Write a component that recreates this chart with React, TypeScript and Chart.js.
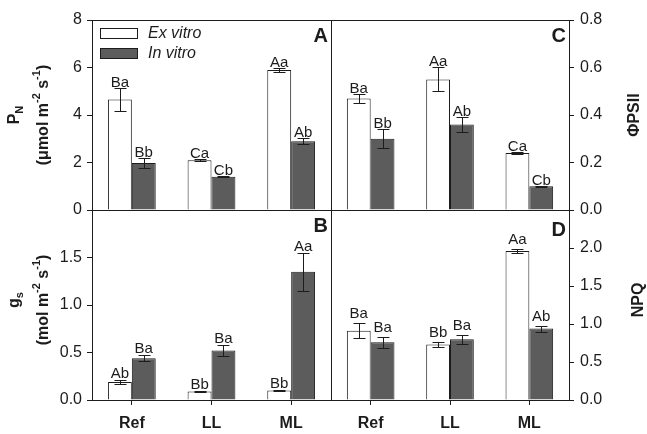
import { useEffect, useRef } from 'react';
import { Chart, registerables } from 'chart.js';

Chart.register(...registerables);

const W = 647;
const H = 434;
const FONT = '"Liberation Sans", Arial, Helvetica, sans-serif';
const INK = '#1c1c1c';
const DARK_FILL = '#5c5c5c';
const Y_AXIS_BAND = 60;
const X_AXIS_BAND = 30;

const categories = ['Ref', 'LL', 'ML'];
const seriesNames = ['Ex vitro', 'In vitro'];

// Net photosynthetic rate, P_N (µmol m-2 s-1)
const pnExVitro = [4.65, 2.1, 5.9];
const pnInVitro = [1.98, 1.4, 2.9];
const pnExVitroErr = [0.5, 0.05, 0.1];
const pnInVitroErr = [0.2, 0.03, 0.14];
const pnExVitroLetters = ['Ba', 'Ca', 'Aa'];
const pnInVitroLetters = ['Bb', 'Cb', 'Ab'];
const pnAxis = [0, 8, 2]; // min, max, step

// Stomatal conductance, gs (mol m-2 s-1)
const gsExVitro = [0.19, 0.09, 0.1];
const gsInVitro = [0.44, 0.52, 1.35];
const gsExVitroErr = [0.02, 0.005, 0.005];
const gsInVitroErr = [0.03, 0.06, 0.2];
const gsExVitroLetters = ['Ab', 'Bb', 'Bb'];
const gsInVitroLetters = ['Ba', 'Ba', 'Aa'];
const gsAxis = [0, 2, 0.5];

// Effective quantum yield of PSII
const psiiExVitro = [0.47, 0.55, 0.24];
const psiiInVitro = [0.3, 0.36, 0.1];
const psiiExVitroErr = [0.02, 0.05, 0.004];
const psiiInVitroErr = [0.04, 0.03, 0.002];
const psiiExVitroLetters = ['Ba', 'Aa', 'Ca'];
const psiiInVitroLetters = ['Bb', 'Ab', 'Cb'];
const psiiAxis = [0, 0.8, 0.2];

// Non-photochemical quenching
const npqExVitro = [0.91, 0.73, 1.96];
const npqInVitro = [0.76, 0.8, 0.94];
const npqExVitroErr = [0.1, 0.03, 0.03];
const npqInVitroErr = [0.07, 0.06, 0.04];
const npqExVitroLetters = ['Ba', 'Bb', 'Aa'];
const npqInVitroLetters = ['Ba', 'Ba', 'Ab'];
const npqAxis = [0, 2.5, 0.5];

type Run = { t: string; k?: 'sub' | 'sup' };

interface PanelSpec {
  letter: string;
  box: [number, number, number, number]; // left, top, right, bottom
  side: 'left' | 'right';
  ex: number[];
  inn: number[];
  exErr: number[];
  inErr: number[];
  exLetters: string[];
  inLetters: string[];
  axis: number[];
  decimals: number;
  hideTopLabel: boolean;
  showCategories: boolean;
  showLegend: boolean;
  title: Run[][];
  titleX: number[];
  titleY: number;
  labelGap: number;
  letterDy: number;
}

const panels: PanelSpec[] = [
  {
    letter: 'A', box: [92, 20, 331, 210], side: 'left',
    ex: pnExVitro, inn: pnInVitro, exErr: pnExVitroErr, inErr: pnInVitroErr,
    exLetters: pnExVitroLetters, inLetters: pnInVitroLetters,
    axis: pnAxis, decimals: 0, hideTopLabel: false, showCategories: false, showLegend: true,
    title: [
      [{ t: 'P' }, { t: 'N', k: 'sub' }],
      [{ t: '(μmol m' }, { t: '-2', k: 'sup' }, { t: ' s' }, { t: '-1', k: 'sup' }, { t: ')' }],
    ],
    titleX: [15, 44], titleY: 115, labelGap: 2, letterDy: 22,
  },
  {
    letter: 'B', box: [92, 210, 331, 400], side: 'left',
    ex: gsExVitro, inn: gsInVitro, exErr: gsExVitroErr, inErr: gsInVitroErr,
    exLetters: gsExVitroLetters, inLetters: gsInVitroLetters,
    axis: gsAxis, decimals: 1, hideTopLabel: true, showCategories: true, showLegend: false,
    title: [
      [{ t: 'g' }, { t: 's', k: 'sub' }],
      [{ t: '(mol m' }, { t: '-2', k: 'sup' }, { t: ' s' }, { t: '-1', k: 'sup' }, { t: ')' }],
    ],
    titleX: [15, 44], titleY: 300, labelGap: 3, letterDy: 22,
  },
  {
    letter: 'C', box: [331, 20, 569, 210], side: 'right',
    ex: psiiExVitro, inn: psiiInVitro, exErr: psiiExVitroErr, inErr: psiiInVitroErr,
    exLetters: psiiExVitroLetters, inLetters: psiiInVitroLetters,
    axis: psiiAxis, decimals: 1, hideTopLabel: false, showCategories: false, showLegend: false,
    title: [[{ t: 'ΦPSII' }]],
    titleX: [635], titleY: 115, labelGap: 2, letterDy: 22,
  },
  {
    letter: 'D', box: [331, 210, 569, 400], side: 'right',
    ex: npqExVitro, inn: npqInVitro, exErr: npqExVitroErr, inErr: npqInVitroErr,
    exLetters: npqExVitroLetters, inLetters: npqInVitroLetters,
    axis: npqAxis, decimals: 1, hideTopLabel: true, showCategories: true, showLegend: false,
    title: [[{ t: 'NPQ' }]],
    titleX: [639], titleY: 300, labelGap: 6, letterDy: 26,
  },
];

// Draws a bold axis title rotated to read bottom-to-top, with sub/superscripts.
function drawRotatedRuns(ctx: CanvasRenderingContext2D, runs: Run[], cx: number, cy: number, size: number) {
  const main = `bold ${size}px ${FONT}`;
  const small = `bold ${Math.round(size * 0.68)}px ${FONT}`;
  let total = 0;
  for (const r of runs) {
    ctx.font = r.k ? small : main;
    total += ctx.measureText(r.t).width;
  }
  ctx.save();
  ctx.translate(cx, cy);
  ctx.rotate(-Math.PI / 2);
  ctx.textAlign = 'left';
  ctx.textBaseline = 'middle';
  ctx.fillStyle = INK;
  let x = -total / 2;
  for (const r of runs) {
    ctx.font = r.k ? small : main;
    const dy = r.k === 'sup' ? -size * 0.42 : r.k === 'sub' ? size * 0.3 : 0;
    ctx.fillText(r.t, x, dy);
    x += ctx.measureText(r.t).width;
  }
  ctx.restore();
}

function makeDecor(spec: PanelSpec) {
  return {
    id: 'panelDecor',
    afterDatasetsDraw(chart: any) {
      const ctx: CanvasRenderingContext2D = chart.ctx;
      const yScale = chart.scales.y;
      const series = [
        { vals: spec.ex, err: spec.exErr, lab: spec.exLetters },
        { vals: spec.inn, err: spec.inErr, lab: spec.inLetters },
      ];
      ctx.save();
      ctx.strokeStyle = INK;
      ctx.lineWidth = 1;
      series.forEach((s, di) => {
        const meta = chart.getDatasetMeta(di);
        meta.data.forEach((bar: any, i: number) => {
          const x = Math.round(bar.x) + 0.5;
          const top = Math.round(yScale.getPixelForValue(s.vals[i] + s.err[i])) + 0.5;
          const bot = Math.round(yScale.getPixelForValue(s.vals[i] - s.err[i])) + 0.5;
          ctx.beginPath();
          ctx.moveTo(x, top);
          ctx.lineTo(x, bot);
          ctx.moveTo(x - 6, top);
          ctx.lineTo(x + 6, top);
          ctx.moveTo(x - 6, bot);
          ctx.lineTo(x + 6, bot);
          ctx.stroke();
          ctx.font = `15px ${FONT}`;
          ctx.fillStyle = INK;
          ctx.textAlign = 'center';
          ctx.textBaseline = 'alphabetic';
          ctx.fillText(s.lab[i], bar.x, top - spec.labelGap);
        });
      });
      const a = chart.chartArea;
      ctx.strokeRect(
        Math.round(a.left) + 0.5,
        Math.round(a.top) + 0.5,
        Math.round(a.right - a.left),
        Math.round(a.bottom - a.top),
      );
      ctx.restore();
    },
    afterDraw(chart: any) {
      const ctx: CanvasRenderingContext2D = chart.ctx;
      const a = chart.chartArea;
      ctx.save();
      // panel letter
      ctx.font = `bold 20px ${FONT}`;
      ctx.fillStyle = INK;
      ctx.textAlign = 'right';
      ctx.textBaseline = 'alphabetic';
      ctx.fillText(spec.letter, a.right - 3, a.top + spec.letterDy);
      // axis titles
      spec.title.forEach((line, li) => drawRotatedRuns(ctx, line, spec.titleX[li], spec.titleY, 16));
      // legend
      if (spec.showLegend) {
        const fills = ['#ffffff', DARK_FILL];
        seriesNames.forEach((name, i) => {
          const bx = a.left + 8;
          const by = a.top + 8 + i * 20;
          ctx.fillStyle = fills[i];
          ctx.fillRect(bx, by, 37, 10);
          ctx.strokeStyle = INK;
          ctx.lineWidth = 1;
          ctx.strokeRect(bx + 0.5, by + 0.5, 37, 10);
          ctx.fillStyle = INK;
          ctx.font = `italic 16px ${FONT}`;
          ctx.textAlign = 'left';
          ctx.textBaseline = 'middle';
          ctx.fillText(name, bx + 48, by + 6);
        });
      }
      ctx.restore();
    },
  };
}

function Panel({ spec }: { spec: PanelSpec }) {
  const ref = useRef<HTMLCanvasElement>(null);
  useEffect(() => {
    const canvas = ref.current;
    if (!canvas) return;
    const [l, t, r, b] = spec.box;
    const [min, max, step] = spec.axis;
    const padding = {
      left: spec.side === 'left' ? l - Y_AXIS_BAND : l,
      right: spec.side === 'right' ? W - r - Y_AXIS_BAND : W - r,
      top: t,
      bottom: spec.showCategories ? H - b - X_AXIS_BAND : H - b,
    };
    const chart = new Chart(canvas, {
      type: 'bar',
      data: {
        labels: categories,
        datasets: [
          {
            label: seriesNames[0], data: spec.ex, backgroundColor: '#ffffff',
            borderColor: INK, borderWidth: 1, categoryPercentage: 0.6, barPercentage: 1,
          },
          {
            label: seriesNames[1], data: spec.inn, backgroundColor: DARK_FILL,
            borderColor: INK, borderWidth: 1, categoryPercentage: 0.6, barPercentage: 1,
          },
        ],
      },
      options: {
        responsive: false,
        animation: false,
        devicePixelRatio: 1,
        events: [],
        layout: { padding },
        plugins: { legend: { display: false }, tooltip: { enabled: false } },
        scales: {
          x: {
            type: 'category',
            display: spec.showCategories,
            offset: true,
            grid: { display: true, offset: false, drawOnChartArea: false, drawTicks: true, tickLength: 5, color: INK },
            border: { display: false },
            ticks: { color: INK, font: { family: FONT, size: 16, weight: 'bold' }, padding: 9, maxRotation: 0 },
            afterFit: (s: any) => { s.height = spec.showCategories ? X_AXIS_BAND : 0; },
          },
          y: {
            position: spec.side,
            min,
            max,
            grid: { drawOnChartArea: false, drawTicks: true, tickLength: 5, color: INK },
            border: { display: false },
            ticks: {
              stepSize: step,
              color: INK,
              padding: spec.side === 'left' ? 5 : 6,
              font: { family: FONT, size: 16 },
              callback: (v: any) => {
                const n = Number(v);
                if (spec.hideTopLabel && Math.abs(n - max) < 1e-9) return '';
                return n.toFixed(spec.decimals);
              },
            },
            afterFit: (s: any) => { s.width = Y_AXIS_BAND; },
          },
        },
      } as any,
      plugins: [makeDecor(spec)],
    });
    return () => chart.destroy();
  }, [spec]);
  return (
    <canvas
      ref={ref}
      width={W}
      height={H}
      style={{ position: 'absolute', left: 0, top: 0, width: W, height: H }}
    />
  );
}

export default function App() {
  return (
    <div style={{ position: 'fixed', left: 0, top: 0, width: W, height: H, background: '#ffffff', overflow: 'hidden' }}>
      {panels.map((p) => (
        <Panel key={p.letter} spec={p} />
      ))}
    </div>
  );
}
